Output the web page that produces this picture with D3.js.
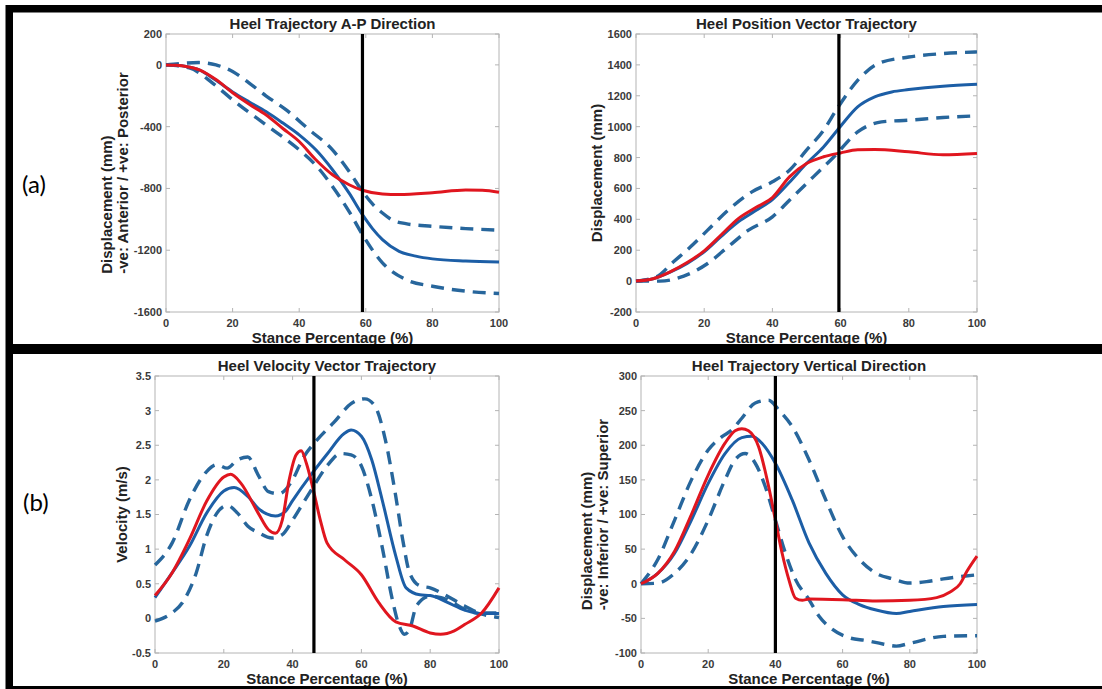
<!DOCTYPE html>
<html>
<head>
<meta charset="utf-8">
<script src="https://cdn.jsdelivr.net/npm/d3@7"></script>
<style>
  html, body { margin: 0; padding: 0; background: #fff; }
  svg { display: block; }
</style>
</head>
<body>
<svg id="fig" width="1102" height="689"></svg>
<script>
"use strict";

// eixo x comum: percentagem da fase de apoio
var stanceTicks = [0, 20, 40, 60, 80, 100];

// (a) esquerda: trajetória A-P do calcanhar (mm)
var apTicks = [200, 0, -400, -800, -1200, -1600];
var apEvent = 59;
var apSubject = [[0,0],[3,-3],[6,-10],[10,-32],[15,-95],[20,-180],[25,-255],[30,-323],[35,-410],[40,-496],[45,-614],[50,-711],[55,-776],[59,-812],[65,-836],[70,-840],[80,-828],[90,-810],[95,-812],[100,-825]];
var apMean = [[0,0],[3,-3],[6,-10],[10,-32],[15,-100],[20,-175],[25,-240],[30,-302],[35,-375],[40,-453],[45,-550],[50,-679],[55,-830],[59,-970],[62,-1060],[65,-1131],[70,-1207],[75,-1238],[80,-1256],[90,-1270],[100,-1276]];
var apUpper = [[0,0],[5,10],[10,15],[15,0],[20,-43],[25,-118],[30,-200],[36,-290],[43,-420],[50,-550],[55,-690],[59,-819],[62,-900],[65,-959],[68,-1005],[72,-1028],[80,-1045],[90,-1060],[100,-1070]];
var apLower = [[0,0],[7,-20],[14,-118],[20,-226],[30,-388],[40,-550],[45,-650],[50,-787],[55,-950],[59,-1099],[65,-1282],[72,-1390],[80,-1433],[90,-1465],[100,-1480]];

// (a) direita: vetor posição do calcanhar (mm)
var posTicks = [-200, 0, 200, 400, 600, 800, 1000, 1200, 1400, 1600];
var posEvent = 59.5;
var posSubject = [[0,0],[5,15],[10,60],[15,120],[20,196],[25,300],[30,405],[35,475],[40,541],[45,675],[50,761],[55,805],[60,830],[65,850],[70,852],[80,837],[90,818],[100,826]];
var posMean = [[0,0],[5,15],[10,58],[15,115],[20,190],[25,290],[30,384],[35,455],[40,528],[45,640],[50,761],[55,869],[60,1003],[65,1128],[70,1193],[75,1225],[80,1240],[90,1262],[100,1275]];
var posUpper = [[0,0],[6,28],[11,125],[16,222],[21,330],[27,459],[34,578],[40,643],[45,718],[50,848],[55,977],[59,1117],[65,1300],[71,1408],[80,1451],[90,1473],[100,1484]];
var posLower = [[0,0],[7,0],[14,32],[21,114],[27,222],[33,330],[40,416],[45,524],[52,675],[58,804],[65,966],[72,1031],[80,1042],[90,1059],[100,1070]];

// (b) esquerda: vetor velocidade do calcanhar (m/s)
var velTicks = [-0.5, 0, 0.5, 1, 1.5, 2, 2.5, 3, 3.5];
var velEvent = 46.2;
var velSubject = [[0,0.33],[5,0.66],[10,1.14],[15,1.69],[20,2.04],[22,2.08],[25,1.95],[30,1.52],[33,1.28],[35,1.23],[37,1.42],[39,2.0],[41,2.36],[42.5,2.42],[44,2.24],[46,1.86],[48,1.43],[50,1.09],[55,0.85],[60,0.63],[65,0.23],[70,-0.05],[75,-0.11],[80,-0.21],[83,-0.23],[87,-0.18],[90,-0.09],[95,0.08],[100,0.44]];
var velMean = [[0,0.30],[5,0.66],[10,1.04],[15,1.52],[20,1.84],[23,1.89],[27,1.76],[30,1.59],[35,1.48],[38,1.55],[40,1.70],[45,2.05],[50,2.37],[55,2.67],[57,2.72],[60,2.63],[63,2.29],[66,1.72],[70,0.9],[73,0.44],[77,0.34],[80,0.33],[85,0.23],[90,0.12],[95,0.07],[100,0.07]];
var velUpper = [[0,0.77],[5,1.09],[10,1.71],[15,2.12],[18,2.22],[21,2.17],[24,2.29],[27,2.33],[30,2.07],[33,1.83],[36,1.80],[40,2.0],[43,2.31],[47,2.57],[52,2.83],[57,3.1],[61,3.17],[64,3.06],[67,2.57],[70,1.76],[72,1.14],[74,0.66],[77,0.47],[80,0.44],[85,0.32],[90,0.18],[95,0.08],[100,0.08]];
var velLower = [[0,-0.04],[5,0.08],[8,0.23],[12,0.66],[15,1.19],[18,1.52],[21,1.63],[24,1.52],[27,1.33],[30,1.24],[34,1.16],[37,1.21],[40,1.42],[43,1.66],[46,1.9],[50,2.2],[54,2.38],[57,2.36],[60,2.2],[63,1.72],[66,1.04],[69,0.27],[71,-0.11],[72.5,-0.23],[74,-0.16],[76,0.18],[80,0.32],[85,0.27],[90,0.13],[95,0.06],[100,0.01]];

// (b) direita: trajetória vertical do calcanhar (mm)
var vertTicks = [-100, -50, 0, 50, 100, 150, 200, 250, 300];
var vertEvent = 40;
var vertSubject = [[0,0],[5,15],[10,47],[15,100],[20,157],[25,203],[28,221],[30,224],[32,221],[35,198],[38,140],[40,92],[42,44],[44,6],[46,-21],[48,-24],[50,-22],[60,-23],[70,-25],[80,-24],[88,-20],[92,-12],[95,0],[97,18],[100,40]];
var vertMean = [[0,0],[5,15],[10,44],[15,92],[20,145],[25,188],[30,211],[33,213],[36,203],[40,174],[45,121],[50,59],[55,15],[60,-16],[65,-30],[70,-38],[76,-43],[80,-40],[90,-33],[100,-30]];
var vertUpper = [[0,0],[5,35],[10,92],[15,150],[20,193],[24,212],[27,222],[30,239],[34,261],[38,265],[41,251],[45,227],[50,179],[55,121],[60,68],[65,35],[70,15],[75,7],[80,1],[85,3],[90,7],[100,13]];
var vertLower = [[0,0],[5,1],[10,15],[15,44],[20,92],[25,150],[28,179],[31,188],[34,174],[37,140],[40,92],[43,44],[46,6],[50,-23],[53,-47],[57,-66],[62,-78],[67,-82],[72,-87],[76,-90],[80,-86],[90,-76],[100,-75]];

var corMedia = "#1c5ea6";
var corDesvio = "#27669c";
var corSujeito = "#e0161f";
var fonte = "Liberation Sans, Arial, sans-serif";

var paineis = [
    { titulo: "Heel Trajectory A-P Direction", caixa: [166, 34, 499, 312],
      ticks: apTicks, dominio: [-1600, 200], evento: apEvent,
      rotulo: ["Displacement (mm)", "-ve: Anterior / +ve: Posterior"], rotuloX: [59, 43],
      media: apMean, sup: apUpper, inf: apLower, sujeito: apSubject },
    { titulo: "Heel Position Vector Trajectory", caixa: [636, 34, 977, 312],
      ticks: posTicks, dominio: [-200, 1600], evento: posEvent,
      rotulo: ["Displacement (mm)"], rotuloX: [39],
      media: posMean, sup: posUpper, inf: posLower, sujeito: posSubject },
    { titulo: "Heel Velocity Vector Trajectory", caixa: [155, 376, 499, 653],
      ticks: velTicks, dominio: [-0.5, 3.5], evento: velEvent,
      rotulo: ["Velocity (m/s)"], rotuloX: [33],
      media: velMean, sup: velUpper, inf: velLower, sujeito: velSubject },
    { titulo: "Heel Trajectory Vertical Direction", caixa: [641, 376, 977, 653],
      ticks: vertTicks, dominio: [-100, 300], evento: vertEvent,
      rotulo: ["Displacement (mm)", "-ve: Inferior / +ve: Superior"], rotuloX: [54, 38],
      media: vertMean, sup: vertUpper, inf: vertLower, sujeito: vertSubject }
];

var svg = d3.select("#fig");

function texto(sel, tamanho, cor) {
    return sel.attr("font-family", fonte)
        .attr("font-weight", "bold")
        .attr("font-size", tamanho)
        .attr("fill", cor);
}

function desenhaPainel(p) {
    var x0 = p.caixa[0], y0 = p.caixa[1], x1 = p.caixa[2], y1 = p.caixa[3];
    var x = d3.scaleLinear().domain([0, 100]).range([x0, x1]);
    var y = d3.scaleLinear().domain(p.dominio).range([y1, y0]);
    var g = svg.append("g");

    // caixa dos eixos
    g.append("rect")
        .attr("x", x0).attr("y", y0)
        .attr("width", x1 - x0).attr("height", y1 - y0)
        .attr("fill", "#fff").attr("stroke", "#b4b4b4").attr("stroke-width", 1);

    // marcas para dentro nos quatro lados (estilo MATLAB)
    var tam = 4;
    stanceTicks.forEach(function (t) {
        g.append("line").attr("x1", x(t)).attr("x2", x(t)).attr("y1", y1).attr("y2", y1 - tam)
            .attr("stroke", "#b4b4b4");
        g.append("line").attr("x1", x(t)).attr("x2", x(t)).attr("y1", y0).attr("y2", y0 + tam)
            .attr("stroke", "#b4b4b4");
    });
    p.ticks.forEach(function (t) {
        g.append("line").attr("x1", x0).attr("x2", x0 + tam).attr("y1", y(t)).attr("y2", y(t))
            .attr("stroke", "#b4b4b4");
        g.append("line").attr("x1", x1).attr("x2", x1 - tam).attr("y1", y(t)).attr("y2", y(t))
            .attr("stroke", "#b4b4b4");
    });

    // rótulos das marcas
    texto(g.selectAll(".tx").data(stanceTicks).enter().append("text"), 11, "#3a3a3a")
        .attr("x", function (d) { return x(d); })
        .attr("y", y1 + 15)
        .attr("text-anchor", "middle")
        .text(function (d) { return d; });

    texto(g.selectAll(".ty").data(p.ticks).enter().append("text"), 11, "#3a3a3a")
        .attr("x", x0 - 4)
        .attr("y", function (d) { return y(d); })
        .attr("dy", "0.36em")
        .attr("text-anchor", "end")
        .text(function (d) { return d; });

    var linha = d3.line()
        .x(function (d) { return x(d[0]); })
        .y(function (d) { return y(d[1]); })
        .curve(d3.curveMonotoneX);

    g.append("path").datum(p.sup).attr("d", linha)
        .attr("fill", "none").attr("stroke", corDesvio).attr("stroke-width", 3.4)
        .attr("stroke-dasharray", "13,8");
    g.append("path").datum(p.inf).attr("d", linha)
        .attr("fill", "none").attr("stroke", corDesvio).attr("stroke-width", 3.4)
        .attr("stroke-dasharray", "13,8");
    g.append("path").datum(p.media).attr("d", linha)
        .attr("fill", "none").attr("stroke", corMedia).attr("stroke-width", 3);
    g.append("path").datum(p.sujeito).attr("d", linha)
        .attr("fill", "none").attr("stroke", corSujeito).attr("stroke-width", 3);

    // linha vertical do evento
    g.append("line")
        .attr("x1", x(p.evento)).attr("x2", x(p.evento))
        .attr("y1", y0).attr("y2", y1)
        .attr("stroke", "#000").attr("stroke-width", 3.2);

    // título
    texto(g.append("text"), 15, "#222")
        .attr("x", (x0 + x1) / 2).attr("y", y0 - 5)
        .attr("text-anchor", "middle")
        .text(p.titulo);

    // rótulo do eixo x
    texto(g.append("text"), 15, "#222")
        .attr("x", (x0 + x1) / 2).attr("y", y1 + 31)
        .attr("text-anchor", "middle")
        .text("Stance Percentage (%)");

    // rótulo do eixo y (várias linhas alinhadas pelo início)
    var meio = (y0 + y1) / 2;
    var textos = p.rotulo.map(function (r, i) {
        return texto(g.append("text"), 15, "#222")
            .attr("transform", "translate(" + (x0 - p.rotuloX[i]) + "," + meio + ") rotate(-90)")
            .attr("dy", "0.36em")
            .text(r);
    });
    if (textos.length === 1) {
        textos[0].attr("text-anchor", "middle");
    } else {
        var maior = d3.max(textos, function (t) { return t.node().getComputedTextLength(); });
        textos.forEach(function (t) {
            t.attr("x", -maior / 2).attr("text-anchor", "start");
        });
    }
}

paineis.forEach(desenhaPainel);

// letras dos painéis
svg.append("text").attr("x", 22).attr("y", 193)
    .attr("font-family", "Lato, Open Sans, sans-serif").attr("font-size", 24)
    .attr("fill", "#000").text("(a)");
svg.append("text").attr("x", 23).attr("y", 511)
    .attr("font-family", "Lato, Open Sans, sans-serif").attr("font-size", 24)
    .attr("fill", "#000").text("(b)");

// molduras pretas
var molduras = [
    [6, 5, 1096, 7.5],
    [5.5, 5, 7.5, 684],
    [6, 344, 1096, 10],
    [6, 686, 1096, 3]
];
svg.selectAll(".moldura").data(molduras).enter().append("rect")
    .attr("x", function (d) { return d[0]; })
    .attr("y", function (d) { return d[1]; })
    .attr("width", function (d) { return d[2]; })
    .attr("height", function (d) { return d[3]; })
    .attr("fill", "#000");
</script>
</body>
</html>
